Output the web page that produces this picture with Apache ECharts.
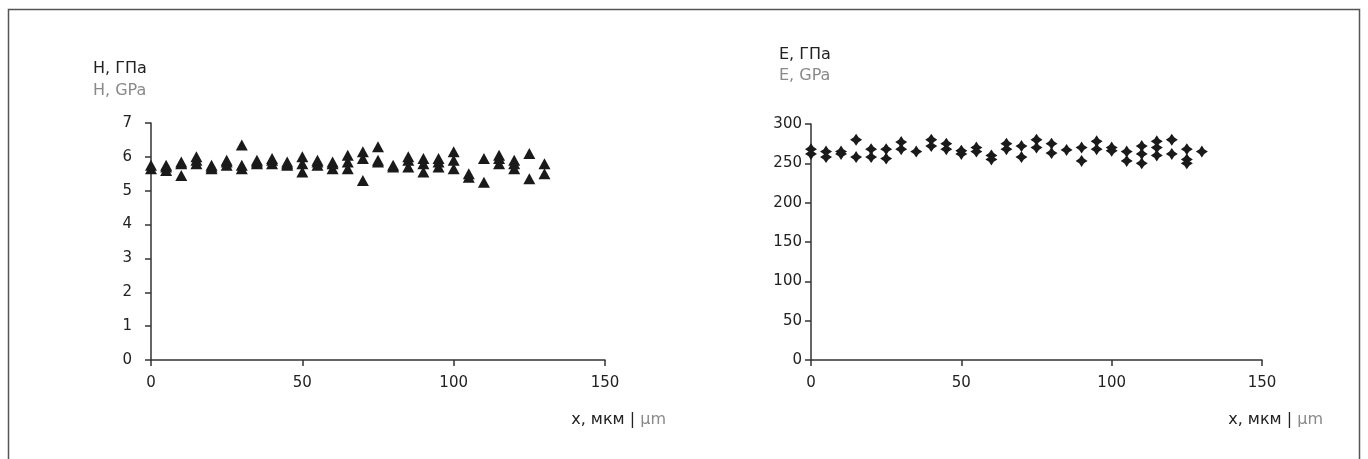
<!DOCTYPE html>
<html>
<head>
<meta charset="utf-8">
<style>
  html, body { margin: 0; padding: 0; background: #fff; }
  #chart { width: 1368px; height: 459px; }
</style>
<script src="https://cdn.jsdelivr.net/npm/echarts@6/dist/echarts.min.js"></script>
</head>
<body>
<div id="chart"></div>
<script>
// hardness H, GPa  -- [x µm, value]
var hardness = [
  [0, 5.65], [0, 5.75],
  [5, 5.6], [5, 5.7], [5, 5.75],
  [10, 5.45], [10, 5.8], [10, 5.85],
  [15, 5.8], [15, 5.9], [15, 6.0],
  [20, 5.65], [20, 5.7], [20, 5.75],
  [25, 5.75], [25, 5.85], [25, 5.9],
  [30, 6.35], [30, 5.65], [30, 5.75],
  [35, 5.8], [35, 5.85], [35, 5.9],
  [40, 5.8], [40, 5.9], [40, 5.95],
  [45, 5.75], [45, 5.8], [45, 5.85],
  [50, 5.55], [50, 5.8], [50, 6.0],
  [55, 5.75], [55, 5.85], [55, 5.9],
  [60, 5.65], [60, 5.8], [60, 5.85],
  [65, 5.65], [65, 5.85], [65, 6.05],
  [70, 5.3], [70, 5.95], [70, 6.15],
  [75, 6.3], [75, 5.85], [75, 5.9],
  [80, 5.7], [80, 5.75],
  [85, 5.7], [85, 5.9], [85, 6.0],
  [90, 5.55], [90, 5.8], [90, 5.95],
  [95, 5.7], [95, 5.85], [95, 5.95],
  [100, 5.65], [100, 5.9], [100, 6.15],
  [105, 5.4], [105, 5.5],
  [110, 5.25], [110, 5.95],
  [115, 5.8], [115, 5.95], [115, 6.05],
  [120, 5.65], [120, 5.8], [120, 5.9],
  [125, 6.1], [125, 5.35],
  [130, 5.5], [130, 5.8]
];

// modulus E, GPa
var modulus = [
  [0, 268], [0, 262],
  [5, 265], [5, 258],
  [10, 265], [10, 262],
  [15, 280], [15, 258],
  [20, 268], [20, 258],
  [25, 268], [25, 256],
  [30, 277], [30, 268],
  [35, 265],
  [40, 280], [40, 272],
  [45, 275], [45, 268],
  [50, 266], [50, 262],
  [55, 270], [55, 265],
  [60, 260], [60, 255],
  [65, 275], [65, 268],
  [70, 272], [70, 258],
  [75, 280], [75, 270],
  [80, 275], [80, 263],
  [85, 267],
  [90, 270], [90, 253],
  [95, 278], [95, 268],
  [100, 270], [100, 266],
  [105, 265], [105, 253],
  [110, 272], [110, 262], [110, 250],
  [115, 278], [115, 270], [115, 260],
  [120, 280], [120, 262],
  [125, 268], [125, 255], [125, 250],
  [130, 265]
];

var titlesH = ['H, ГПа', 'H, GPa'];
var titlesE = ['E, ГПа', 'E, GPa'];

var myChart = echarts.init(document.getElementById('chart'));
var font = '"DejaVu Sans", sans-serif';
var dark = '#222';
var grey = '#8a8a8a';

function xAxis(gridIndex) {
  return {
    gridIndex: gridIndex,
    type: 'value',
    min: 0, max: 150, interval: 50,
    name: '{a|x, мкм |}{b| µm}',
    nameLocation: 'end',
    nameGap: 61,
    nameTextStyle: {
      align: 'right',
      verticalAlign: 'top',
      padding: [52, 0, 0, 0],
      rich: {
        a: { color: dark, fontSize: 16, fontFamily: font },
        b: { color: grey, fontSize: 16, fontFamily: font }
      }
    },
    axisLine: { lineStyle: { color: '#333', width: 1.5 } },
    axisTick: { show: true, length: 6, lineStyle: { color: '#333', width: 1.5 } },
    axisLabel: { color: dark, fontSize: 15, fontFamily: font, margin: 16 },
    splitLine: { show: false }
  };
}

function yAxis(gridIndex, max, interval, margin) {
  return {
    gridIndex: gridIndex,
    type: 'value',
    min: 0, max: max, interval: interval,
    axisLine: { show: true, lineStyle: { color: '#333', width: 1.5 } },
    axisTick: { show: true, length: 6, lineStyle: { color: '#333', width: 1.5 } },
    axisLabel: { color: dark, fontSize: 15, fontFamily: font, margin: margin },
    splitLine: { show: false }
  };
}

function titleStyle(color) {
  return { color: color, fontSize: 16, fontWeight: 'normal', fontFamily: font };
}

myChart.setOption({
  animation: false,
  backgroundColor: '#fff',
  title: [
    { text: titlesH[0], left: 88, top: 56, textStyle: titleStyle(dark) },
    { text: titlesH[1], left: 88, top: 78, textStyle: titleStyle(grey) },
    { text: titlesE[0], left: 774, top: 42, textStyle: titleStyle(dark) },
    { text: titlesE[1], left: 774, top: 63, textStyle: titleStyle(grey) }
  ],
  graphic: [{
    type: 'rect',
    shape: { x: 8.5, y: 9.5, width: 1351, height: 480 },
    style: { fill: 'none', stroke: '#555', lineWidth: 1.5 },
    silent: true
  }],
  grid: [
    { left: 151, right: 763, top: 123, bottom: 99 },
    { left: 811, right: 106, top: 124, bottom: 99 }
  ],
  xAxis: [xAxis(0), xAxis(1)],
  yAxis: [yAxis(0, 7, 1, 19), yAxis(1, 300, 50, 9)],
  series: [
    {
      type: 'scatter',
      xAxisIndex: 0, yAxisIndex: 0,
      data: hardness,
      symbol: 'triangle',
      symbolSize: [12, 11],
      itemStyle: { color: '#1a1a1a', opacity: 1 }
    },
    {
      type: 'scatter',
      xAxisIndex: 1, yAxisIndex: 1,
      data: modulus,
      symbol: 'path://M5,0 L7,3 L10,5 L7,7 L5,10 L3,7 L0,5 L3,3 Z',
      symbolSize: 12,
      itemStyle: { color: '#1a1a1a', opacity: 1 }
    }
  ]
});
</script>
</body>
</html>
